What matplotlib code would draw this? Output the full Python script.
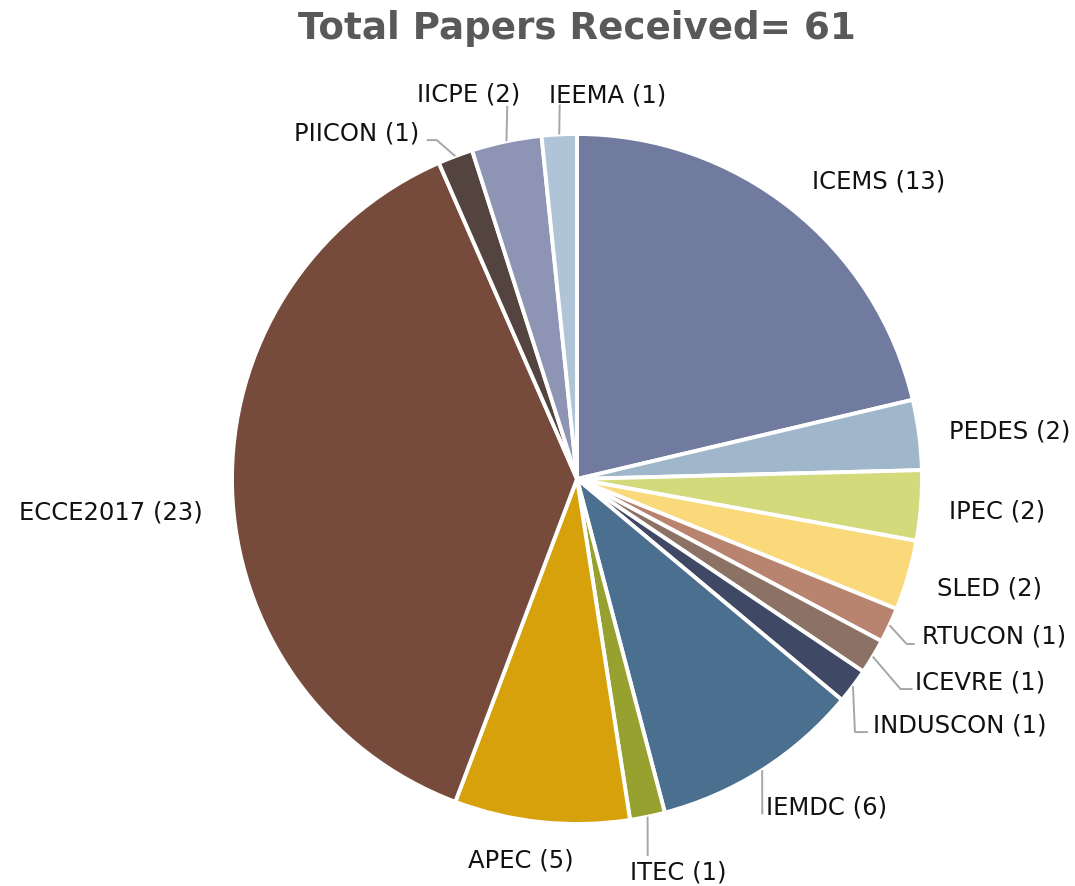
import numpy as np
import matplotlib.pyplot as plt

# conference names and number of papers (clockwise from 12 o'clock)
conferences = ["ICEMS", "PEDES", "IPEC", "SLED", "RTUCON", "ICEVRE", "INDUSCON",
               "IEMDC", "ITEC", "APEC", "ECCE2017", "PIICON", "IICPE", "IEEMA"]
papers = [13, 2, 2, 2, 1, 1, 1, 6, 1, 5, 23, 1, 2, 1]
colors = ["#717ba0", "#a0b6cb", "#d3da7b", "#f9d97a", "#b8836f", "#8c7265", "#3f4864",
          "#4b6f8f", "#97a12f", "#d6a10b", "#774b3c", "#54443f", "#8e94b4", "#afc4d6"]

# label layout: nudge from the default anchor (px, y down), alignment, leader elbow/end offsets
label_layout = {
    "ICEMS":    ((2, -4), "left", None),
    "PEDES":    ((0, 0), "left", None),
    "IPEC":     ((-2, 3), "left", None),
    "SLED":     ((0, 4), "left", None),
    "RTUCON":   ((5, -2), "left", ((-15, 8), (-7, 8))),
    "ICEVRE":   ((17, 9), "left", ((-15, 8), (-3, 8))),
    "INDUSCON": ((-4, 20), "left", ((-18, 8), (-5, 8))),
    "IEMDC":    ((-12, 11), "left", ((-4, 8), (-4, 8))),
    "ITEC":     ((-24, 25), "left", ((18, -15), (18, -15))),
    "APEC":     ((-18, 7), "center", None),
    "ECCE2017": ((1, 23), "right", None),
    "PIICON":   ((-25, 4), "right", ((17, 8), (7, 8))),
    "IICPE":    ((20, -18), "right", ((-13, 12), (-13, 12))),
    "IEEMA":    ((-9, -10), "left", ((11, 10), (11, 10))),
}

W, H = 1075, 887
CX, CY, R = 577, 480, 345   # pie centre / radius in pixels (y down)
RL = 375                    # label anchor radius

fig = plt.figure(figsize=(W / 100, H / 100), dpi=100)
ax = fig.add_axes([0, 0, 1, 1])

ax.pie(papers, colors=colors, startangle=90, counterclock=False,
       center=(CX, H - CY), radius=R,
       wedgeprops=dict(edgecolor="white", linewidth=2.8))

total = sum(papers)
cum = np.cumsum(papers)
for name, v, c in zip(conferences, papers, cum):
    theta = 2 * np.pi * (c - v / 2) / total
    s, co = np.sin(theta), np.cos(theta)
    (dx, dy), ha, leader = label_layout[name]
    tx = CX + RL * s + dx
    ty = CY - RL * co + dy
    if leader is not None:
        ex, ey = CX + R * s, CY - R * co
        (bx, by), (fx, fy) = leader
        xs = [ex, tx + bx, tx + fx]
        ys = [H - ey, H - (ty + by), H - (ty + fy)]
        ax.plot(xs, ys, color="#a6a6a6", lw=1.4, solid_capstyle="butt")
    ax.text(tx, H - ty, f"{name} ({v})", ha=ha, va="center",
            fontsize=17.5, color="#111111")

# title
ax.text(CX, H - 28, f"Total Papers Received= {total}", ha="center", va="center",
        fontsize=26.8, fontweight="bold", color="#595959")

ax.set_xlim(0, W)
ax.set_ylim(0, H)
ax.set_aspect("equal")
ax.axis("off")

plt.savefig("out.png", dpi=100)
